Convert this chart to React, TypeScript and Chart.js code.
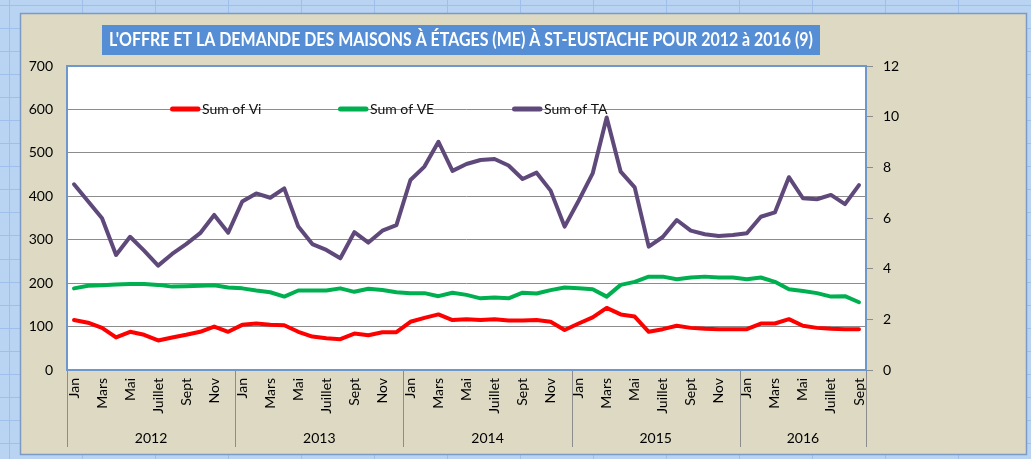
import React, { useEffect, useRef } from "react";
import { Chart, registerables } from "chart.js";

Chart.register(...registerables);

const TITLE =
  "L'OFFRE ET LA DEMANDE DES MAISONS À ÉTAGES (ME) À ST-EUSTACHE POUR 2012 à 2016 (9)";

const YEARS = ["2012", "2013", "2014", "2015", "2016"];
const MONTHS_PER_YEAR = [12, 12, 12, 12, 9];
const MONTH_NAMES = ["Jan", "Fév", "Mars", "Avr", "Mai", "Juin", "Juillet", "Août", "Sept", "Oct", "Nov", "Déc"];

const SERIES_LABELS = ["Sum of Vi", "Sum of VE", "Sum of TA"];
const SERIES_COLORS = ["#FF0000", "#00B050", "#5F497A"];

const VI = [
  115, 109, 97, 75, 88, 81, 68, 75, 81, 88, 100, 88,
  104, 107, 104, 103, 88, 77, 73, 71, 84, 80, 87, 87,
  111, 120, 128, 115, 117, 115, 117, 114, 114, 115, 111, 92,
  107, 121, 143, 128, 123, 88, 94, 102, 97, 95, 94, 94,
  94, 107, 107, 117, 102, 97, 95, 94, 94,
];

const VE = [
  188, 194, 195, 197, 198, 198, 196, 192, 193, 194, 195, 190,
  188, 183, 179, 169, 183, 183, 183, 188, 180, 187, 184, 179,
  177, 177, 170, 178, 173, 165, 167, 165, 178, 176, 184, 190,
  188, 186, 169, 196, 203, 215, 215, 209, 213, 215, 213, 213,
  209, 213, 203, 186, 182, 177, 169, 170, 156,
];

const TA = [
  7.33, 6.66, 5.99, 4.54, 5.26, 4.71, 4.12, 4.58, 4.97, 5.4, 6.12, 5.42,
  6.65, 6.97, 6.8, 7.17, 5.66, 4.97, 4.74, 4.41, 5.44, 5.03, 5.5, 5.72,
  7.5, 8.03, 9.01, 7.86, 8.13, 8.29, 8.33, 8.07, 7.54, 7.79, 7.08, 5.66,
  6.68, 7.76, 9.97, 7.83, 7.21, 4.87, 5.25, 5.92, 5.5, 5.36, 5.29, 5.33,
  5.4, 6.05, 6.22, 7.61, 6.78, 6.74, 6.91, 6.55, 7.3,
];

const LEFT_AXIS = { min: 0, max: 700, step: 100 };
const RIGHT_AXIS = { min: 0, max: 12, step: 2 };

// build category table
const MONTH_INDEX: number[] = [];
const CATEGORY_LABELS: string[] = [];
MONTHS_PER_YEAR.forEach((n) => {
  for (let m = 0; m < n; m++) {
    MONTH_INDEX.push(m);
    CATEGORY_LABELS.push(MONTH_NAMES[m]);
  }
});

const FONT = "Lato";

const decorPlugin = {
  id: "decor",
  beforeDraw(chart: any) {
    const ctx = chart.ctx;
    const W = chart.width;
    const H = chart.height;
    ctx.save();
    // spreadsheet background
    ctx.fillStyle = "#B9D3F3";
    ctx.fillRect(0, 0, W, H);
    ctx.strokeStyle = "#9EBFE9";
    ctx.lineWidth = 1;
    for (let x = 9.5; x < W; x += 73) {
      ctx.beginPath();
      ctx.moveTo(x, 0);
      ctx.lineTo(x, H);
      ctx.stroke();
    }
    for (let y = 4.5; y < H; y += 23.1) {
      ctx.beginPath();
      ctx.moveTo(0, Math.round(y) + 0.5);
      ctx.lineTo(W, Math.round(y) + 0.5);
      ctx.stroke();
    }
    // chart frame
    ctx.fillStyle = "#DDD9C3";
    ctx.fillRect(20, 13, 1007, 442);
    ctx.strokeStyle = "#7C9AC4";
    ctx.lineWidth = 1.5;
    ctx.strokeRect(20.5, 13.5, 1006, 441);
    // title box
    ctx.fillStyle = "#558ED5";
    ctx.fillRect(102, 25, 718, 30);
    ctx.fillStyle = "#FFFFFF";
    ctx.font = `bold 18px ${FONT}`;
    ctx.textAlign = "center";
    ctx.textBaseline = "middle";
    ctx.fillText(TITLE, 461, 40.5, 704);
    // plot area background
    const a = chart.chartArea;
    ctx.fillStyle = "#FFFFFF";
    ctx.fillRect(a.left, a.top, a.right - a.left, a.bottom - a.top);
    ctx.restore();
  },
  beforeDatasetsDraw(chart: any) {
    const ctx = chart.ctx;
    const a = chart.chartArea;
    const offsets = [103, 271, 445];
    const y = a.top + 43;
    ctx.save();
    chart.data.datasets.forEach((ds: any, i: number) => {
      const x = a.left + offsets[i];
      ctx.strokeStyle = ds.borderColor;
      ctx.lineWidth = 5;
      ctx.lineCap = "round";
      ctx.beginPath();
      ctx.moveTo(x + 2.5, y);
      ctx.lineTo(x + 28, y);
      ctx.stroke();
      ctx.fillStyle = "#111111";
      ctx.font = `14px ${FONT}`;
      ctx.textAlign = "left";
      ctx.textBaseline = "middle";
      ctx.fillText(ds.label, x + 32, y + 0.5);
    });
    ctx.restore();
  },
  afterDraw(chart: any) {
    const ctx = chart.ctx;
    const a = chart.chartArea;
    const xs = chart.scales.x;
    const n = CATEGORY_LABELS.length;
    const step = (xs.right - xs.left) / n;
    ctx.save();
    // year separators and labels
    ctx.strokeStyle = "#8C8C8C";
    ctx.lineWidth = 1;
    let start = 0;
    const bounds: number[] = [start];
    MONTHS_PER_YEAR.forEach((cnt) => {
      start += cnt;
      bounds.push(start);
    });
    bounds.forEach((b) => {
      const px = b < n ? xs.getPixelForValue(b) - step / 2 : xs.getPixelForValue(n - 1) + step / 2;
      const x = Math.round(px) + 0.5;
      ctx.beginPath();
      ctx.moveTo(x, a.bottom);
      ctx.lineTo(x, 447);
      ctx.stroke();
    });
    ctx.fillStyle = "#000000";
    ctx.font = `14px ${FONT}`;
    ctx.textAlign = "center";
    ctx.textBaseline = "middle";
    YEARS.forEach((yr, i) => {
      const l = xs.getPixelForValue(bounds[i]) - step / 2;
      const r = xs.getPixelForValue(bounds[i + 1] - 1) + step / 2;
      ctx.fillText(yr, (l + r) / 2, 438);
    });
    // plot area border
    ctx.strokeStyle = "#6E97CC";
    ctx.lineWidth = 2;
    ctx.strokeRect(a.left, a.top, a.right - a.left, a.bottom - a.top);
    ctx.restore();
  },
};

export default function App() {
  const ref = useRef<HTMLCanvasElement>(null);

  useEffect(() => {
    if (!ref.current) return;
    const mk = (label: string, data: number[], color: string, axis: string) => ({
      label,
      data,
      borderColor: color,
      backgroundColor: color,
      borderWidth: 4,
      borderJoinStyle: "round",
      borderCapStyle: "round",
      pointRadius: 0,
      tension: 0,
      fill: false,
      yAxisID: axis,
    });
    const tickFont = { family: FONT, size: 14 };
    const chart = new Chart(ref.current, {
      type: "line",
      data: {
        labels: CATEGORY_LABELS,
        datasets: [
          mk(SERIES_LABELS[0], VI, SERIES_COLORS[0], "y"),
          mk(SERIES_LABELS[1], VE, SERIES_COLORS[1], "y"),
          mk(SERIES_LABELS[2], TA, SERIES_COLORS[2], "y1"),
        ] as any,
      },
      options: {
        responsive: false,
        animation: false,
        devicePixelRatio: 1,
        layout: { padding: { top: 66, left: 0, right: 0, bottom: 0 } },
        plugins: { legend: { display: false }, tooltip: { enabled: false }, title: { display: false } },
        scales: {
          x: {
            type: "category",
            offset: true,
            grid: { display: false, drawTicks: false },
            border: { display: false },
            ticks: {
              autoSkip: false,
              minRotation: 90,
              maxRotation: 90,
              padding: 8,
              color: "#000000",
              font: tickFont,
              callback: (_v: any, i: number) => (MONTH_INDEX[i] % 2 === 0 ? CATEGORY_LABELS[i] : ""),
            },
            afterFit: (s: any) => {
              s.height = 89;
            },
          },
          y: {
            position: "left",
            min: LEFT_AXIS.min,
            max: LEFT_AXIS.max,
            ticks: { stepSize: LEFT_AXIS.step, padding: 14, color: "#000000", font: tickFont },
            grid: { color: "#8C8C8C", lineWidth: 1, drawTicks: false },
            border: { display: false },
            afterFit: (s: any) => {
              s.width = 67;
            },
          },
          y1: {
            position: "right",
            min: RIGHT_AXIS.min,
            max: RIGHT_AXIS.max,
            ticks: { stepSize: RIGHT_AXIS.step, padding: 10, color: "#000000", font: tickFont },
            grid: { drawOnChartArea: false, drawTicks: true, tickLength: 7, color: "#8C8C8C" },
            border: { display: false },
            afterFit: (s: any) => {
              s.width = 165;
            },
          },
        },
      } as any,
      plugins: [decorPlugin as any],
    });
    return () => chart.destroy();
  }, []);

  return (
    <div style={{ position: "fixed", left: 0, top: 0, width: 1031, height: 459 }}>
      <canvas ref={ref} width={1031} height={459} style={{ display: "block", width: 1031, height: 459 }} />
    </div>
  );
}
